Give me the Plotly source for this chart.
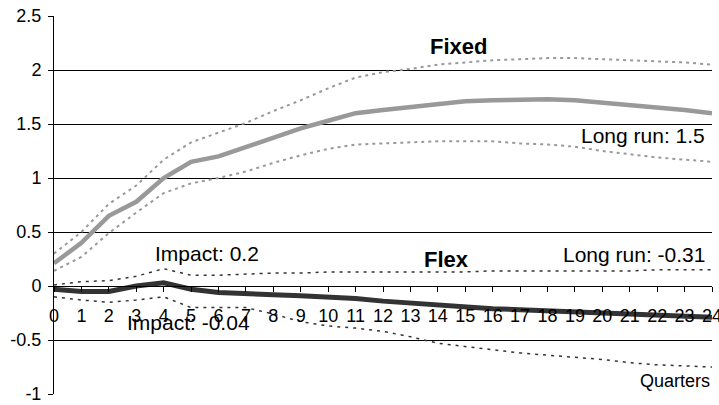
import plotly.graph_objects as go

quarters = list(range(25))
x_tick_labels = [str(q) for q in quarters]

fixed_mid = [0.21, 0.40, 0.65, 0.78, 1.00, 1.15, 1.20, 1.29, 1.38, 1.46, 1.53, 1.60, 1.63,
             1.66, 1.69, 1.71, 1.72, 1.73, 1.73, 1.72, 1.70, 1.67, 1.65, 1.63, 1.60]
fixed_upper = [0.30, 0.50, 0.76, 0.93, 1.17, 1.33, 1.42, 1.51, 1.62, 1.72, 1.83, 1.93, 1.98,
               2.01, 2.05, 2.07, 2.09, 2.10, 2.11, 2.11, 2.10, 2.09, 2.08, 2.07, 2.05]
fixed_lower = [0.14, 0.27, 0.49, 0.68, 0.86, 0.95, 1.00, 1.06, 1.14, 1.21, 1.27, 1.31, 1.32,
               1.33, 1.34, 1.34, 1.34, 1.32, 1.31, 1.29, 1.25, 1.22, 1.19, 1.17, 1.15]

flex_mid = [-0.03, -0.05, -0.05, 0.00, 0.03, -0.03, -0.06, -0.065, -0.08, -0.09, -0.10, -0.115,
            -0.14, -0.16, -0.18, -0.20, -0.21, -0.22, -0.23, -0.24, -0.25, -0.26, -0.27, -0.28, -0.29]
flex_upper = [0.01, 0.04, 0.05, 0.09, 0.16, 0.10, 0.10, 0.11, 0.12, 0.12, 0.13, 0.13, 0.13,
              0.13, 0.13, 0.13, 0.14, 0.14, 0.14, 0.14, 0.14, 0.14, 0.15, 0.15, 0.15]
flex_lower = [-0.10, -0.13, -0.15, -0.13, -0.10, -0.20, -0.20, -0.20, -0.26, -0.33, -0.37, -0.39,
              -0.42, -0.47, -0.53, -0.56, -0.59, -0.62, -0.64, -0.66, -0.68, -0.71, -0.73, -0.74, -0.75]

y_tick_vals = [-1, -0.5, 0, 0.5, 1, 1.5, 2, 2.5]
y_tick_labels = ["-1", "-0.5", "0", "0.5", "1", "1.5", "2", "2.5"]

FONT = "Liberation Sans, Arial, sans-serif"
GREY = "#999999"
DARK = "#333333"

fig = go.Figure()
for ys in (fixed_upper, fixed_lower):
    fig.add_trace(go.Scatter(x=quarters, y=ys, mode="lines",
                             line=dict(color=GREY, width=2, dash="3px,4px")))
for ys in (flex_upper, flex_lower):
    fig.add_trace(go.Scatter(x=quarters, y=ys, mode="lines",
                             line=dict(color=DARK, width=1.5, dash="3px,5px")))
fig.add_trace(go.Scatter(x=quarters, y=fixed_mid, mode="lines",
                         line=dict(color=GREY, width=4.5)))
fig.add_trace(go.Scatter(x=quarters, y=flex_mid, mode="lines",
                         line=dict(color=DARK, width=5)))

ann_font = dict(family=FONT, size=21, color="black")
bold_font = dict(family=FONT, size=22, color="black", weight="bold")
annotations = [
    dict(text="<b>Fixed</b>", x=0.614, y=0.918, xanchor="center", yanchor="middle", font=bold_font),
    dict(text="<b>Flex</b>", x=0.596, y=0.357, xanchor="center", yanchor="middle", font=bold_font),
    dict(text="Impact: 0.2", x=0.150, y=0.373, xanchor="left", yanchor="middle", font=ann_font),
    dict(text="Impact: -0.04", x=0.108, y=0.188, xanchor="left", yanchor="middle", font=ann_font),
    dict(text="Long run: 1.5", x=0.992, y=0.685, xanchor="right", yanchor="middle", font=ann_font),
    dict(text="Long run: -0.31", x=0.992, y=0.368, xanchor="right", yanchor="middle", font=ann_font),
    dict(text="Quarters", x=1.0, y=0.034, xanchor="right", yanchor="middle",
         font=dict(family=FONT, size=18, color="black")),
]
for a in annotations:
    a.update(xref="paper", yref="paper", showarrow=False)

fig.update_layout(
    width=719, height=405,
    margin=dict(l=54, r=7, t=16, b=11, autoexpand=False),
    paper_bgcolor="white", plot_bgcolor="white",
    showlegend=False, hovermode=False,
    font=dict(family=FONT, size=18, color="black"),
    annotations=annotations,
    xaxis=dict(range=[0, 24], tickvals=quarters, ticktext=x_tick_labels,
               anchor="free", position=1 / 3.5, showgrid=False, zeroline=False,
               showline=True, linecolor="black", linewidth=1, automargin=False,
               ticks="outside", ticklen=5, tickcolor="black", ticklabeloverflow="allow",
               tickfont=dict(family=FONT, size=18), ticklabelstandoff=8),
    yaxis=dict(range=[-1, 2.5], tickvals=y_tick_vals, ticktext=y_tick_labels,
               domain=[0, 1], showgrid=True, gridcolor="black", gridwidth=1,
               zeroline=True, zerolinecolor="black", zerolinewidth=1,
               showline=True, linecolor="black", linewidth=1, automargin=False,
               ticks="outside", ticklen=5, tickcolor="black",
               tickfont=dict(family=FONT, size=18), ticklabelstandoff=3),
)

fig.write_html("out.html", config={"displayModeBar": False, "staticPlot": True},
               post_script="document.body.style.margin='0';document.body.style.overflow='hidden';")
